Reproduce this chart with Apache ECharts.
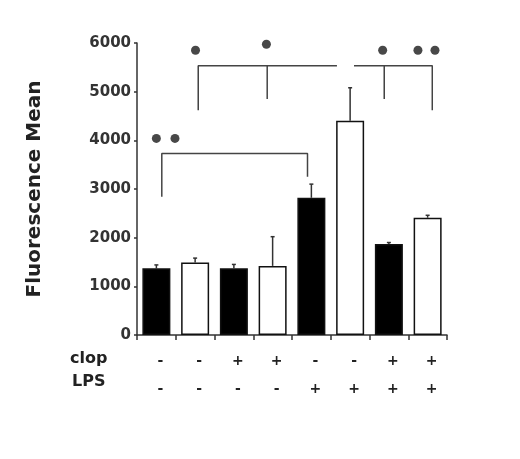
<!DOCTYPE html>
<html><head><meta charset="utf-8">
<script src="https://cdn.jsdelivr.net/npm/echarts@6/dist/echarts.min.js"></script>
<style>html,body{margin:0;padding:0;background:#fff}#c{width:520px;height:459px}</style>
</head><body><div id="c"></div>
<script>
const categories = ['g1','g2','g3','g4','g5','g6','g7','g8'];
const clopSigns = ['-','-','+','+','-','-','+','+'];
const lpsSigns  = ['-','-','-','-','+','+','+','+'];
const means = [1370, 1490, 1370, 1420, 2820, 4400, 1870, 2410];
const errTops = [1440, 1580, 1450, 2020, 3100, 5080, 1900, 2460];
const fills = ['#000','#fff','#000','#fff','#000','#fff','#000','#fff'];
const yTicks = [0, 1000, 2000, 3000, 4000, 5000, 6000];
// significance brackets in (x position in category units, value) coords
const bracketTop = [[1.58,4620],[1.58,5530],[5.16,5530],'-',[3.36,4850],[3.36,5530],'-',[5.6,5530],[7.62,5530],[7.62,4620],'-',[6.38,4850],[6.38,5530]];
const bracketLow = [[0.64,2840],[0.64,3730],[4.4,3730],[4.4,3250]];
// significance marks (dots)
const starDots = [[1.51,5850],[3.34,5975],[6.34,5850],[7.25,5850],[7.69,5850],[0.50,4040],[0.98,4040]];

const chart = echarts.init(document.getElementById('c'));
chart.setOption({
  animation:false,
  backgroundColor:'#fff',
  grid:{left:137,right:73,top:43,bottom:124},
  xAxis:[{
    type:'category', data:categories,
    axisLine:{lineStyle:{color:'#333',width:1.5}},
    axisTick:{show:true,length:5,lineStyle:{color:'#333',width:1.5}},
    axisLabel:{
      formatter:(v,i)=>clopSigns[i]+'\n'+lpsSigns[i],
      fontFamily:'DejaVu Sans',fontWeight:'bold',fontSize:14,color:'#222',
      lineHeight:28,margin:12,padding:[0,0,0,8]
    }
  },{
    type:'value',min:0,max:8,show:false
  }],
  yAxis:{
    type:'value',min:0,max:6000,interval:1000,
    name:'Fluorescence Mean',nameLocation:'middle',nameGap:92,nameRotate:90,
    nameTextStyle:{fontFamily:'DejaVu Sans',fontWeight:'bold',fontSize:20,color:'#222'},
    axisLine:{show:true,lineStyle:{color:'#333',width:1.5}},
    axisTick:{show:true,length:3,lineStyle:{color:'#333',width:1.5}},
    splitLine:{show:false},
    axisLabel:{formatter:v=>String(yTicks[yTicks.indexOf(v)]),fontFamily:'DejaVu Sans',fontWeight:'bold',fontSize:15,color:'#333',margin:6}
  },
  graphic:[
    {type:'text',left:70,top:351,style:{text:'clop',font:'bold 16px DejaVu Sans',fill:'#222'}},
    {type:'text',left:72,top:374,style:{text:'LPS',font:'bold 16px DejaVu Sans',fill:'#222'}}
  ],
  series:[
    {
      type:'custom', xAxisIndex:0, z:1,
      data: categories.map((c,i)=>[i, means[i], errTops[i]]),
      renderItem:(params,api)=>{
        const p0 = api.coord([api.value(0), api.value(1)]);
        const p1 = api.coord([api.value(0), api.value(2)]);
        return {type:'group',children:[
          {type:'line',shape:{x1:p0[0],y1:p0[1],x2:p1[0],y2:p1[1]},style:{stroke:'#333',lineWidth:1.5}},
          {type:'line',shape:{x1:p1[0]-2,y1:p1[1],x2:p1[0]+2,y2:p1[1]},style:{stroke:'#333',lineWidth:1.5}}
        ]};
      }
    },
    {
      type:'bar', xAxisIndex:0, barWidth:28, z:2,
      data: means.map((v,i)=>({value:v,itemStyle:{color:fills[i],borderColor:'#111',borderWidth:1.5}}))
    },
    {
      type:'line', xAxisIndex:1, data:bracketTop, symbol:'none', connectNulls:false,
      lineStyle:{color:'#444',width:1.5}
    },
    {
      type:'line', xAxisIndex:1, data:bracketLow, symbol:'none',
      lineStyle:{color:'#444',width:1.5}
    },
    {
      type:'scatter', xAxisIndex:1, symbol:'circle', symbolSize:9,
      itemStyle:{color:'#1a1a1a'},
      data: starDots
    }
  ]
});
</script>
</body></html>
